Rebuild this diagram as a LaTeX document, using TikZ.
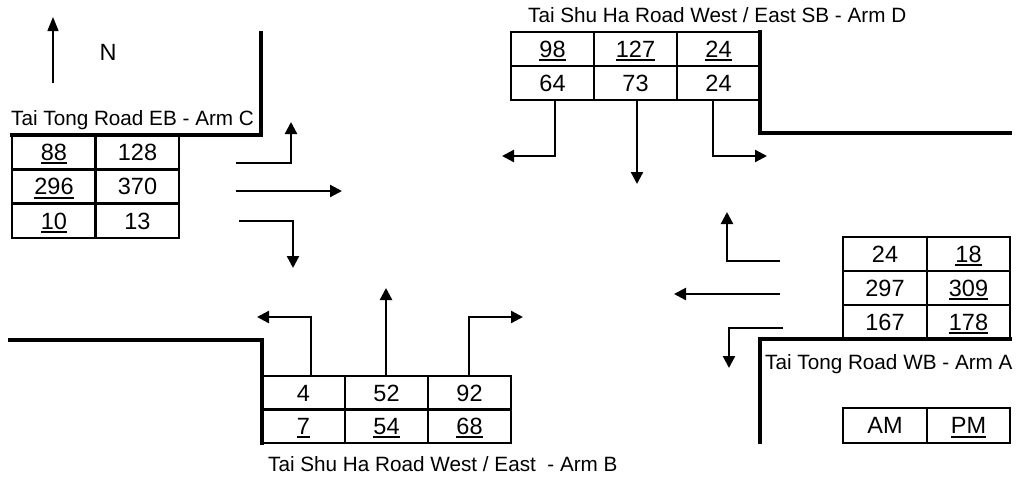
\documentclass[tikz,border=0pt]{standalone}
\usepackage{fontspec}
\setmainfont{Liberation Sans}
\usetikzlibrary{arrows.meta}
\newcommand\ulx[1]{\setbox0=\hbox{#1}\rlap{\rule[-3.8pt]{\wd0}{2pt}}\box0}
\tikzset{
  txt/.style={inner sep=0pt, font=\fontsize{20.7}{25}\selectfont},
  val/.style={inner sep=0pt, font=\fontsize{23.5}{28}\selectfont, text height=16.8pt, text depth=0pt, anchor=center},
  tbl/.style={line width=2.7pt, line join=miter},
  curb/.style={line width=4.3pt, line join=miter, line cap=rect},
  flow/.style={line width=2.3pt, line join=miter, -{Triangle[length=12pt,width=12pt]}},
}
\begin{document}
\begin{tikzpicture}[x=1pt,y=-1pt]
\useasboundingbox (0,0) rectangle (1020,477);

% North arrow
\node[val] (N) at (108,52) {N};
\coordinate (ns) at (53,83);
\coordinate (ne) at (53,17);
\draw[line width=1.4pt, -{Triangle[length=14pt,width=11pt]}] (ns) -- (ne);

% ---------- Arm C ----------
\draw[tbl] (12,135) rectangle (179,238);
\draw[tbl] (95.5,135) -- (95.5,238);
\draw[tbl] (12,169.3) -- (179,169.3) (12,203.7) -- (179,203.7);
\node[val] (c11) at (54,152.2) {\ulx{88}};
\node[val] (c12) at (137.5,152.2) {128};
\node[val] (c21) at (54,186.5) {\ulx{296}};
\node[val] (c22) at (137.5,186.5) {370};
\node[val] (c31) at (54,220.8) {\ulx{10}};
\node[val] (c32) at (137.5,220.8) {13};
\node[txt, anchor=base west] (tc) at (11,125.5) {Tai Tong Road EB - Arm C};
\draw[curb] (261,33) -- (261,135) -- (12,135);

\coordinate (cs1) at (236,163); \coordinate (ce1) at (291,122);
\coordinate (cs2) at (236,191); \coordinate (ce2) at (342,191);
\coordinate (cs3) at (239,221); \coordinate (ce3) at (293,268);
\draw[flow] (cs1) -| (ce1);
\draw[flow] (cs2) -- (ce2);
\draw[flow] (cs3) -| (ce3);

% ---------- Arm D ----------
\draw[tbl] (511,32) rectangle (760,100);
\draw[tbl] (594,32) -- (594,100) (677,32) -- (677,100);
\draw[tbl] (511,66) -- (760,66);
\node[val] (d11) at (552.5,49) {\ulx{98}};
\node[val] (d12) at (635.5,49) {\ulx{127}};
\node[val] (d13) at (718.5,49) {\ulx{24}};
\node[val] (d21) at (552.5,83) {64};
\node[val] (d22) at (635.5,83) {73};
\node[val] (d23) at (718.5,83) {24};
\node[txt, anchor=base west] (td) at (528,22.5) {Tai Shu Ha Road West / East SB - Arm D};
\draw[curb] (760,32) -- (760,133) -- (1010,133);

\coordinate (ds1) at (555,100); \coordinate (de1) at (502,156);
\coordinate (ds2) at (637,100); \coordinate (de2) at (637,184);
\coordinate (ds3) at (713,100); \coordinate (de3) at (767,156);
\draw[flow] (ds1) |- (de1);
\draw[flow] (ds2) -- (de2);
\draw[flow] (ds3) |- (de3);

% ---------- Arm A ----------
\draw[tbl] (843,237) rectangle (1010,339);
\draw[tbl] (927,237) -- (927,339);
\draw[tbl] (843,271) -- (1010,271) (843,305) -- (1010,305);
\node[val] (a11) at (885,254) {24};
\node[val] (a12) at (968.5,254) {\ulx{18}};
\node[val] (a21) at (885,288) {297};
\node[val] (a22) at (968.5,288) {\ulx{309}};
\node[val] (a31) at (885,322) {167};
\node[val] (a32) at (968.5,322) {\ulx{178}};
\node[txt, anchor=base west] (ta) at (765,369.5) {Tai Tong Road WB - Arm A};
\draw[curb] (1010,339) -- (760,339) -- (760,442);

\coordinate (as1) at (780,261); \coordinate (ae1) at (727,212);
\coordinate (as2) at (780,294); \coordinate (ae2) at (674,294);
\coordinate (as3) at (783,328); \coordinate (ae3) at (729,368);
\draw[flow] (as1) -| (ae1);
\draw[flow] (as2) -- (ae2);
\draw[flow] (as3) -| (ae3);

% legend
\draw[tbl] (843,408) rectangle (1010,443);
\draw[tbl] (927,408) -- (927,443);
\node[val] (am) at (885,425.5) {AM};
\node[val] (pm) at (968.5,425.5) {\ulx{PM}};

% ---------- Arm B ----------
\draw[tbl] (262,376) rectangle (511,443);
\draw[tbl] (345,376) -- (345,443) (428,376) -- (428,443);
\draw[tbl] (262,409.5) -- (511,409.5);
\node[val] (b11) at (303.5,392.7) {4};
\node[val] (b12) at (386.5,392.7) {52};
\node[val] (b13) at (469.5,392.7) {92};
\node[val] (b21) at (303.5,426.2) {\ulx{7}};
\node[val] (b22) at (386.5,426.2) {\ulx{54}};
\node[val] (b23) at (469.5,426.2) {\ulx{68}};
\node[txt, anchor=base west] (tb) at (268,471) {Tai Shu Ha Road West / East\ \ - Arm B};
\draw[curb] (10,340) -- (262,340) -- (262,443);

\coordinate (bs1) at (311,376); \coordinate (be1) at (257,317);
\coordinate (bs2) at (386,376); \coordinate (be2) at (386,288);
\coordinate (bs3) at (469,376); \coordinate (be3) at (523,317);
\draw[flow] (bs1) |- (be1);
\draw[flow] (bs2) -- (be2);
\draw[flow] (bs3) |- (be3);
\end{tikzpicture}
\end{document}
